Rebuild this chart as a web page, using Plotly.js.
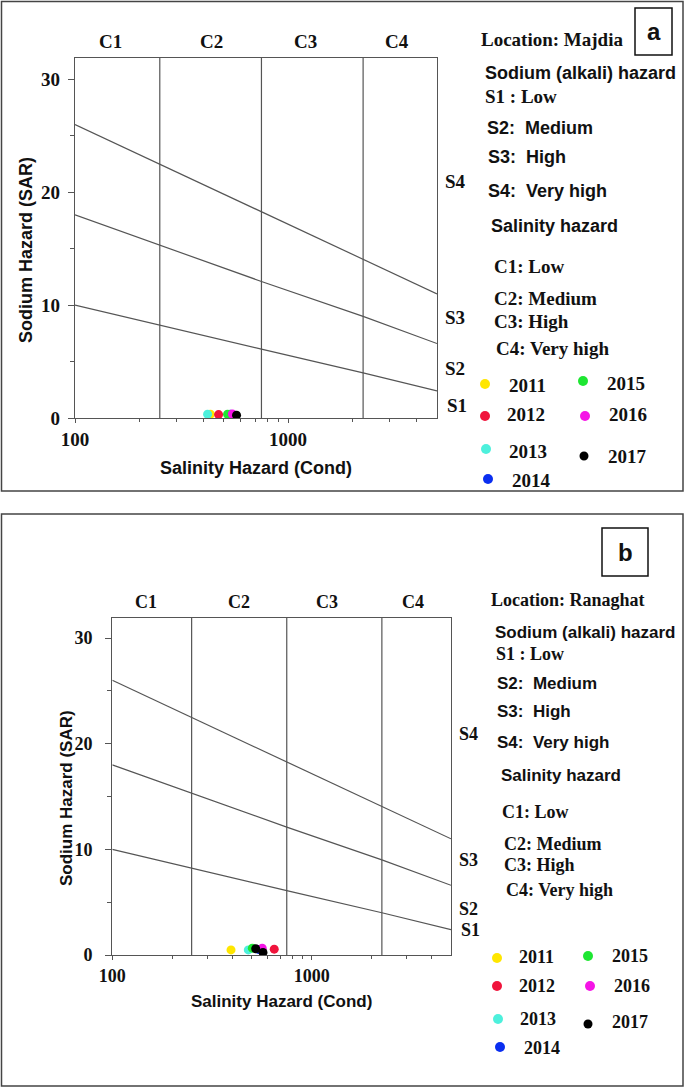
<!DOCTYPE html>
<html>
<head>
<meta charset="utf-8">
<script src="https://cdn.plot.ly/plotly-3.0.1.min.js"></script>
<style>
  html, body { margin: 0; padding: 0; background: #fff; }
  #chart { width: 685px; height: 1088px; }
</style>
</head>
<body>
<div id="chart"></div>
<script>
// USSL-style diagram, two locations (a: Majdia, b: Ranaghat)

// classification boundaries
const ecPts = [100, 250, 750, 2250, 5000];
const sarS1S2 = [10, 8.2, 6.1, 4.0, 2.4];
const sarS2S3 = [18, 15.3, 12.1, 9.0, 6.6];
const sarS3S4 = [26, 22.5, 18.3, 14.1, 11.0];
const cBounds = [250, 750, 2250];
const cLabels = ['C1', 'C2', 'C3', 'C4'];
const sLabels = ['S4', 'S3', 'S2', 'S1'];

// years and colours
const years = ['2011', '2012', '2013', '2014', '2015', '2016', '2017'];
const colors = ['#ffe600', '#f0143c', '#4df0dc', '#0a2ef0', '#1ee632', '#f514e6', '#000000'];

// samples, panel a (Majdia)
const ecA  = [[432], [472], [419], [537], [520], [548], [573]];
const sarA = [[0.33], [0.30], [0.33], [0.33], [0.33], [0.35], [0.25]];
// samples, panel b (Ranaghat)
const ecB  = [[394], [649], [481], [544], [504], [565], [524, 570]];
const sarB = [[0.48], [0.55], [0.48], [0.52], [0.65], [0.65], [0.59, 0.24]];

const minorX = [200, 300, 400, 500, 600, 700, 800, 900, 2000, 3000, 4000];

const W = 685, H = 1088;
const px = x => x / W;
const py = y => 1 - y / H;
const SERIF = '"Liberation Serif", "Times New Roman", serif';
const SANS = '"Liberation Sans", Arial, sans-serif';
const INK = '#111';

function panelTraces(xa, ya, ec, sar){
  const out = [];
  [sarS1S2, sarS2S3, sarS3S4].forEach(s => out.push({
    x: ecPts, y: s, xaxis: xa, yaxis: ya, mode: 'lines',
    line: {color: '#555', width: 1.2}, hoverinfo: 'skip'
  }));
  cBounds.forEach(c => out.push({
    x: [c, c], y: [0, 31.9], xaxis: xa, yaxis: ya, mode: 'lines',
    line: {color: '#555', width: 1.2}, hoverinfo: 'skip'
  }));
  years.forEach((yr, i) => out.push({
    x: ec[i], y: sar[i], xaxis: xa, yaxis: ya, mode: 'markers', name: yr,
    marker: {color: colors[i], size: 9, line: {width: 0}}
  }));
  return out;
}

function xAxis(dom, anchor, fs, standoff){
  return {
    type: 'log', domain: dom, anchor, range: [2, Math.log10(5000)],
    tickvals: [100, 1000], ticktext: ['100', '1000'],
    ticks: 'outside', ticklen: 4, tickcolor: '#555',
    minor: {tickvals: minorX, ticks: 'outside', ticklen: 3, tickcolor: '#555'},
    showline: true, linecolor: '#555', linewidth: 1.2, mirror: true,
    showgrid: false, zeroline: false,
    tickfont: {family: SERIF, size: fs + 1, weight: 'bold', color: INK},
    title: {text: 'Salinity Hazard (Cond)', standoff,
            font: {family: SANS, size: fs, weight: 'bold', color: INK}}
  };
}
function yAxis(dom, anchor, fs, lblGap){
  return {
    domain: dom, anchor, range: [0, 31.9],
    tickvals: [0, 10, 20, 30], ticks: 'outside', ticklen: 6, tickcolor: '#555',
    minor: {tickvals: [5, 15, 25], ticks: 'outside', ticklen: 4, tickcolor: '#555'},
    ticklabelstandoff: lblGap,
    showline: true, linecolor: '#555', linewidth: 1.2, mirror: true,
    showgrid: false, zeroline: false,
    tickfont: {family: SERIF, size: fs + 1, weight: 'bold', color: INK}
  };
}

function txt(x, y, text, fam, size, anchor, angle){
  return {xref: 'paper', yref: 'paper', x: px(x), y: py(y), text, showarrow: false,
          xanchor: anchor || 'left', yanchor: 'middle', textangle: angle || 0,
          font: {family: fam, size, weight: 'bold', color: INK}};
}
function dot(cx, cy, color, r){
  return {type: 'circle', xref: 'paper', yref: 'paper',
          x0: px(cx - r), x1: px(cx + r), y0: py(cy + r), y1: py(cy - r),
          fillcolor: color, line: {width: 0}};
}
function rect(x0, y0, x1, y1, color, w){
  return {type: 'rect', xref: 'paper', yref: 'paper',
          x0: px(x0), x1: px(x1), y0: py(y1), y1: py(y0),
          line: {color, width: w}, fillcolor: 'rgba(0,0,0,0)'};
}

// panel text placement (pixels)
const panels = [
  {
    loc: 'Location: Majdia', tag: 'a', fs: 18,
    tagBox: [635, 8, 672, 55],
    frame: [1.5, 1.5, 683, 491],
    yTitle: [26, 250],
    cPos: [[110, 42], [211, 42], [305, 42], [397, 42]],
    sPos: [[443, 182], [443, 318], [443, 368], [445, 405]],
    info: [[479, 40], [483, 73], [483, 97], [485, 128], [486, 157], [486, 191],
           [489, 226], [492, 266], [492, 298], [492, 322], [494, 348]],
    dots: [[485, 384], [485, 416], [486, 449], [488, 479], [583, 381], [585, 416], [584, 456]],
    yrs:  [[507, 385], [505, 415], [507, 451], [510, 480], [605, 383], [607, 415], [606, 456]]
  },
  {
    loc: 'Location: Ranaghat', tag: 'b', fs: 17,
    tagBox: [602, 528, 648, 576],
    frame: [1.5, 514, 683, 1086],
    yTitle: [66, 798],
    cPos: [[146, 602], [239, 602], [327, 602], [413, 602]],
    sPos: [[457, 734], [457, 860], [457, 909], [459, 930]],
    info: [[489, 600], [493, 632], [494, 654], [495, 683], [495, 711], [495, 742],
           [499, 775], [500, 812], [502, 844], [502, 865], [504, 890]],
    dots: [[497, 958], [497, 986], [498, 1019], [500, 1047], [588, 956], [590, 986], [588, 1024]],
    yrs:  [[517, 957], [517, 986], [518, 1019], [522, 1048], [610, 956], [612, 986], [610, 1022]]
  }
];

const infoText = [
  null,
  ['Sodium (alkali) hazard', SANS],
  ['S1 : Low', SERIF],
  ['S2:&nbsp; Medium', SANS],
  ['S3:&nbsp; High', SANS],
  ['S4:&nbsp; Very high', SANS],
  ['Salinity hazard', SANS],
  ['C1: Low', SERIF],
  ['C2: Medium', SERIF],
  ['C3: High', SERIF],
  ['C4: Very high', SERIF]
];

const annotations = [];
const shapes = [];
panels.forEach(p => {
  shapes.push(rect(...p.frame, '#444', 1.5));
  shapes.push(rect(...p.tagBox, '#111', 1.5));
  const tb = p.tagBox;
  annotations.push(txt((tb[0] + tb[2]) / 2, (tb[1] + tb[3]) / 2, p.tag, SANS, 24, 'center'));
  annotations.push(txt(p.yTitle[0], p.yTitle[1], 'Sodium Hazard (SAR)', SANS, p.fs, 'center', -90));
  cLabels.forEach((c, i) => annotations.push(txt(p.cPos[i][0], p.cPos[i][1], c, SERIF, p.fs + 1, 'center')));
  sLabels.forEach((s, i) => annotations.push(txt(p.sPos[i][0], p.sPos[i][1], s, SERIF, p.fs + 1)));
  annotations.push(txt(p.info[0][0], p.info[0][1], p.loc, SERIF, p.fs + 1));
  for (let i = 1; i < infoText.length; i++){
    const fam = infoText[i][1];
    annotations.push(txt(p.info[i][0], p.info[i][1], infoText[i][0], fam, fam === SERIF ? p.fs + 1 : p.fs));
  }
  years.forEach((yr, i) => {
    shapes.push(dot(p.dots[i][0], p.dots[i][1], colors[i], yr === '2017' ? 4.5 : 5));
    annotations.push(txt(p.yrs[i][0], p.yrs[i][1], yr, SERIF, p.fs + 1));
  });
});

const data = [
  ...panelTraces('x', 'y', ecA, sarA),
  ...panelTraces('x2', 'y2', ecB, sarB)
];

const layout = {
  width: W, height: H,
  margin: {l: 0, r: 0, t: 0, b: 0},
  paper_bgcolor: '#fff', plot_bgcolor: '#fff',
  showlegend: false,
  xaxis:  xAxis([px(75), px(437)], 'y', 18, 12),
  yaxis:  yAxis([py(418), py(58)], 'x', 18, 4),
  xaxis2: xAxis([px(112.3), px(451)], 'y2', 17, 10),
  yaxis2: yAxis([py(955), py(618)], 'x2', 17, 9),
  shapes, annotations
};

Plotly.newPlot('chart', data, layout, {displayModeBar: false, staticPlot: true});
</script>
</body>
</html>
